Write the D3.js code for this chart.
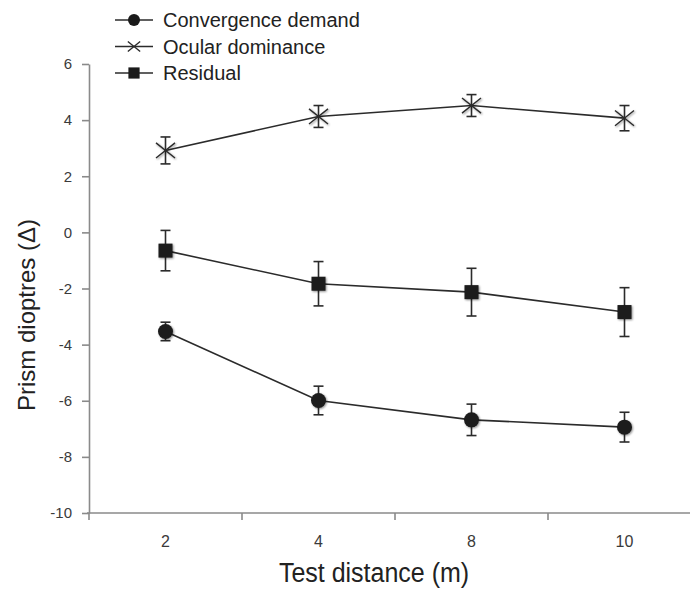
<!DOCTYPE html>
<html>
<head>
<meta charset="utf-8">
<script src="https://cdn.jsdelivr.net/npm/d3@7"></script>
<style>
  body { margin: 0; background: #fff; }
  svg { display: block; font-family: "Liberation Sans", Arial, sans-serif; }
</style>
</head>
<body>
<svg id="chart" width="690" height="589"></svg>
<script>
// test distances (m)
const distances = ['2', '4', '8', '10']

// means and error bars
const convergence = [-3.53, -5.99, -6.68, -6.94]
const convergenceErr = [0.33, 0.51, 0.56, 0.53]
const ocular = [2.92, 4.13, 4.52, 4.07]
const ocularErr = [0.48, 0.39, 0.39, 0.45]
const residual = [-0.65, -1.83, -2.13, -2.84]
const residualErr = [0.72, 0.79, 0.85, 0.87]

const yTicks = [6, 4, 2, 0, -2, -4, -6, -8, -10]
const legendNames = ['Convergence demand', 'Ocular dominance', 'Residual']

const series = [
  {name: legendNames[0], values: convergence, err: convergenceErr, shape: 'circle'},
  {name: legendNames[1], values: ocular, err: ocularErr, shape: 'cross'},
  {name: legendNames[2], values: residual, err: residualErr, shape: 'square'}
]

const svg = d3.select('#chart')
const axisColor = '#8a8a8a'
const ink = '#2b2b2b'

// soft shadow like the printed figure
const defs = svg.append('defs')
const f = defs.append('filter').attr('id', 'soft').attr('x', '-50%').attr('y', '-50%').attr('width', '200%').attr('height', '200%')
f.append('feGaussianBlur').attr('in', 'SourceAlpha').attr('stdDeviation', 1.2).attr('result', 'b')
f.append('feOffset').attr('in', 'b').attr('dx', 0.5).attr('dy', 0.8).attr('result', 'o')
f.append('feComponentTransfer').attr('in', 'o').attr('result', 'o2')
  .append('feFuncA').attr('type', 'linear').attr('slope', 0.45)
const m = f.append('feMerge')
m.append('feMergeNode').attr('in', 'o2')
m.append('feMergeNode').attr('in', 'SourceGraphic')

// scales
const x = d3.scaleBand()
  .domain(distances)
  .range([89, 701])
  .padding(0)

const y = d3.scaleLinear()
  .domain([-10, 6])
  .range([513, 64])

const cx = d => x(d) + x.bandwidth() / 2

// y axis
const yAxis = svg.append('g')
  .attr('transform', 'translate(89,0)')
  .call(d3.axisLeft(y).tickValues(yTicks).tickSize(7).tickSizeOuter(0).tickPadding(10)
    .tickFormat(d => String(d)))
yAxis.select('.domain').attr('stroke', axisColor).attr('stroke-width', 1.6)
yAxis.selectAll('.tick line').attr('stroke', axisColor).attr('stroke-width', 1.6)
yAxis.selectAll('.tick text')
  .attr('fill', '#3a3a3a')
  .attr('font-size', 15)
  .attr('font-family', '"Liberation Sans", Arial, sans-serif')

// x axis: line plus ticks at the band edges
const xAxis = svg.append('g').attr('class', 'x-axis')
xAxis.append('line')
  .attr('x1', 87).attr('x2', 690)
  .attr('y1', y(-10)).attr('y2', y(-10))
  .attr('stroke', axisColor).attr('stroke-width', 1.6)
xAxis.selectAll('line.edge')
  .data(distances)
  .join('line')
  .attr('class', 'edge')
  .attr('x1', d => x(d)).attr('x2', d => x(d))
  .attr('y1', y(-10)).attr('y2', y(-10) + 7)
  .attr('stroke', axisColor).attr('stroke-width', 1.6)
xAxis.selectAll('text')
  .data(distances)
  .join('text')
  .attr('x', cx)
  .attr('y', y(-10) + 34)
  .attr('text-anchor', 'middle')
  .attr('fill', '#3a3a3a')
  .attr('font-size', 16)
  .text(d => d)

// axis titles
svg.append('text')
  .attr('transform', 'translate(374,582) scale(1,1.08)')
  .attr('text-anchor', 'middle')
  .attr('fill', '#222')
  .attr('font-size', 25)
  .text('Test distance (m)')

svg.append('text')
  .attr('transform', 'translate(35,315) rotate(-90)')
  .attr('text-anchor', 'middle')
  .attr('fill', '#222')
  .attr('font-size', 24)
  .text('Prism dioptres (\u0394)')

// marker drawing
function drawMarker(g, shape, px, py, scale) {
  const s = scale || 1
  if (shape === 'circle') {
    g.append('circle').attr('cx', px).attr('cy', py).attr('r', 7.5 * s).attr('fill', '#1a1a1a')
  } else if (shape === 'square') {
    g.append('rect').attr('x', px - 7 * s).attr('y', py - 7 * s)
      .attr('width', 14 * s).attr('height', 14 * s).attr('fill', '#1a1a1a')
  } else {
    const a = 9.5 * s
    g.append('path')
      .attr('d', `M${px - a},${py - a * 0.8}L${px + a},${py + a * 0.8}M${px - a},${py + a * 0.8}L${px + a},${py - a * 0.8}`)
      .attr('stroke', ink).attr('stroke-width', 1.4).attr('fill', 'none')
  }
}

const line = d3.line()
  .x(d => cx(d.cat))
  .y(d => y(d.v))

series.forEach(s => {
  const pts = distances.map((c, i) => ({cat: c, v: s.values[i], e: s.err[i]}))
  const g = svg.append('g')

  g.append('path')
    .datum(pts)
    .attr('d', line)
    .attr('fill', 'none')
    .attr('stroke', ink)
    .attr('stroke-width', 1.6)

  // error bars
  const eb = g.append('g').attr('stroke', ink).attr('stroke-width', 1.6)
  pts.forEach(p => {
    const px = cx(p.cat)
    eb.append('line').attr('x1', px).attr('x2', px).attr('y1', y(p.v + p.e)).attr('y2', y(p.v - p.e))
    eb.append('line').attr('x1', px - 5).attr('x2', px + 5).attr('y1', y(p.v + p.e)).attr('y2', y(p.v + p.e))
    eb.append('line').attr('x1', px - 5).attr('x2', px + 5).attr('y1', y(p.v - p.e)).attr('y2', y(p.v - p.e))
  })

  const mg = g.append('g').attr('filter', 'url(#soft)')
  pts.forEach(p => drawMarker(mg, s.shape, cx(p.cat), y(p.v), 1))
})

// legend
const legend = svg.append('g')
series.forEach((s, i) => {
  const ly = 20 + i * 26.5
  legend.append('line')
    .attr('x1', 115).attr('x2', 153).attr('y1', ly).attr('y2', ly)
    .attr('stroke', ink).attr('stroke-width', 1.6)
  drawMarker(legend, s.shape, 134, ly, s.shape === 'cross' ? 0.65 : 0.8)
  legend.append('text')
    .attr('x', 163).attr('y', ly)
    .attr('dy', '0.36em')
    .attr('fill', '#222')
    .attr('font-size', 20)
    .text(s.name)
})
</script>
</body>
</html>
